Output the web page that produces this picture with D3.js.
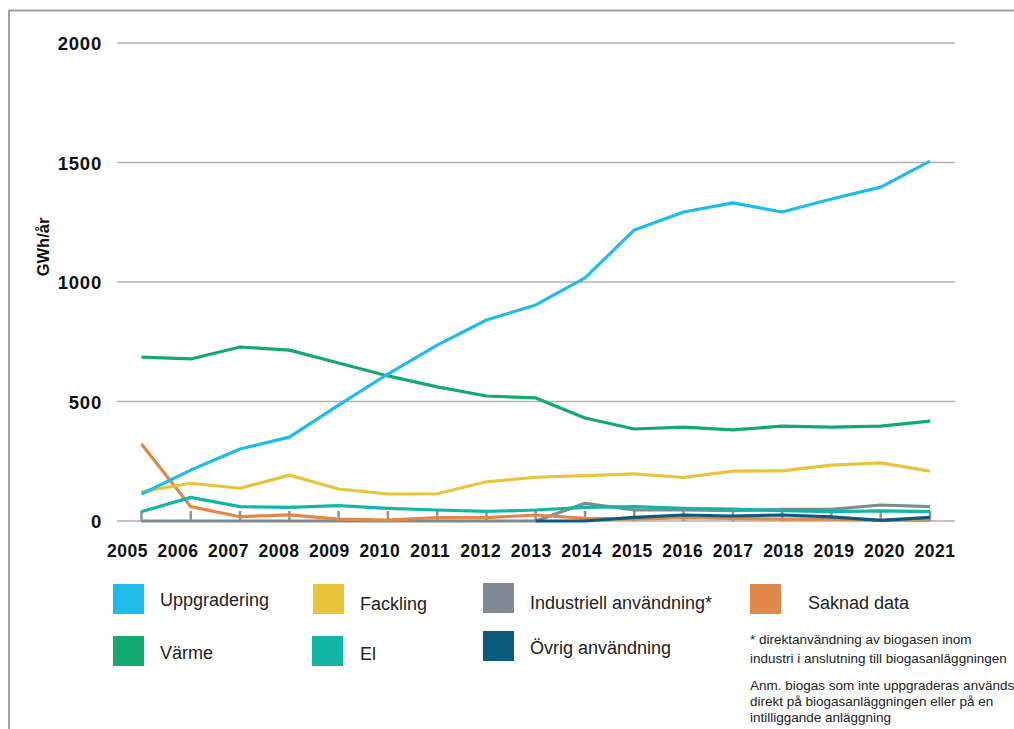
<!DOCTYPE html>
<html><head><meta charset="utf-8">
<script src="https://cdn.jsdelivr.net/npm/d3@7"></script>
<style>body{margin:0;background:#fff}svg{display:block}</style>
</head><body>
<script>
const years = [2005,2006,2007,2008,2009,2010,2011,2012,2013,2014,2015,2016,2017,2018,2019,2020,2021];
const yTicks = [0,500,1000,1500,2000];
const uppgradering = [113,213,301,351,485,615,736,841,904,1017,1218,1293,1331,1293,1347,1397,1506];
const varme = [686,678,728,715,661,607,561,523,515,431,385,393,381,397,393,397,418];
const fackling = [123,158,137,192,134,113,114,164,183,190,197,182,209,210,234,243,209];
const el = [39,99,60,57,64,53,46,40,46,57,60,53,50,43,39,42,39];
const saknad = [322,60,18,26,8,4,14,14,25,11,8,14,11,8,8,4,4];
const industriell = [0,0,0,0,0,0,0,0,0,74,46,46,43,49,49,67,60];
const ovrig = [null,null,null,null,null,null,null,null,0,0,15,25,21,25,17,3,15];

const series = [
  {name:"Uppgradering", color:"#1fbbea", values:uppgradering},
  {name:"Fackling", color:"#e8c43a", values:fackling},
  {name:"Industriell användning*", color:"#7f8b92", values:industriell},
  {name:"Saknad data", color:"#e0874a", values:saknad},
  {name:"Värme", color:"#13a96f", values:varme},
  {name:"El", color:"#12b5a6", values:el},
  {name:"Övrig användning", color:"#0c5a7c", values:ovrig}
];
const drawOrder = ["Industriell användning*","Saknad data","Övrig användning","El","Fackling","Värme","Uppgradering"];

const W=1014,H=729;
const FONT="Liberation Sans, Arial, Helvetica, sans-serif";
const svg=d3.select("body").append("svg").attr("width",W).attr("height",H);
// frame
svg.append("line").attr("x1",9).attr("x2",W).attr("y1",10.5).attr("y2",10.5).attr("stroke","#a0a0a0").attr("stroke-width",2);
svg.append("line").attr("x1",9).attr("x2",9).attr("y1",10).attr("y2",H).attr("stroke","#a0a0a0").attr("stroke-width",2);

const x=d3.scalePoint().domain(years).range([141.5,930]);
const xLab=d3.scalePoint().domain(years).range([127.5,935]);
const y=d3.scaleLinear().domain([0,2000]).range([521,43]);

// gridlines
svg.append("g").selectAll("line").data(yTicks).join("line")
  .attr("x1",117).attr("x2",955).attr("y1",d=>y(d)).attr("y2",d=>y(d))
  .attr("stroke","#afafaf").attr("stroke-width",1.3);
// y labels
svg.append("g").selectAll("text").data(yTicks).join("text")
  .attr("x",102).attr("y",d=>y(d)+7).attr("text-anchor","end")
  .attr("font-family",FONT).attr("font-weight","bold").attr("font-size",18.5).attr("letter-spacing",0.8).attr("fill","#111")
  .text(d=>d);
svg.append("text").attr("transform","translate(49,247) rotate(-90)").attr("text-anchor","middle")
  .attr("font-family",FONT).attr("font-weight","bold").attr("font-size",16.5).attr("fill","#111").text("GWh/år");

// x axis labels
svg.append("g").selectAll("text").data(years).join("text")
  .attr("x",d=>xLab(d)).attr("y",557).attr("text-anchor","middle")
  .attr("font-family",FONT).attr("font-weight","bold").attr("font-size",17.5).attr("letter-spacing",0.5).attr("fill","#111")
  .text(d=>d);

// small year ticks rising from baseline
svg.append("g").selectAll("line").data(years).join("line")
  .attr("x1",d=>x(d)).attr("x2",d=>x(d)).attr("y1",y(0)).attr("y2",y(0)-10)
  .attr("stroke","#8a949a").attr("stroke-width",2.5);

const line=d3.line().defined(d=>d[1]!=null).x(d=>x(d[0])).y(d=>y(d[1]));
drawOrder.forEach(n=>{
  const s=series.find(s=>s.name===n);
  svg.append("path").datum(years.map((yr,i)=>[yr,s.values[i]]))
    .attr("d",line).attr("fill","none").attr("stroke",s.color).attr("stroke-width",3.2)
    .attr("stroke-linejoin","round");
});

// legend
const leg=[
  {name:"Uppgradering", sx:113, sy:584, tx:160, ty:606},
  {name:"Fackling", sx:313, sy:584, tx:360, ty:610},
  {name:"Industriell användning*", sx:483, sy:583, tx:530, ty:609},
  {name:"Saknad data", sx:750, sy:584, tx:808, ty:609},
  {name:"Värme", sx:113, sy:636, tx:160, ty:659},
  {name:"El", sx:312, sy:636, tx:360, ty:660},
  {name:"Övrig användning", sx:483, sy:631, tx:530, ty:654}
];
leg.forEach(l=>{
  const s=series.find(s=>s.name===l.name);
  svg.append("rect").attr("x",l.sx).attr("y",l.sy).attr("width",31).attr("height",30).attr("fill",s.color);
  svg.append("text").attr("x",l.tx).attr("y",l.ty).attr("font-family",FONT)
    .attr("font-size",18).attr("fill","#222").text(l.name);
});
const notes=[["* direktanvändning av biogasen inom",644],["industri i anslutning till biogasanläggningen",663],
  ["Anm. biogas som inte uppgraderas används",690],["direkt på biogasanläggningen eller på en",706],["intilliggande anläggning",722]];
svg.append("g").selectAll("text").data(notes).join("text")
  .attr("x",750).attr("y",d=>d[1]).attr("font-family",FONT).attr("font-size",13.5).attr("fill","#222")
  .text(d=>d[0]);
</script>
</body></html>
